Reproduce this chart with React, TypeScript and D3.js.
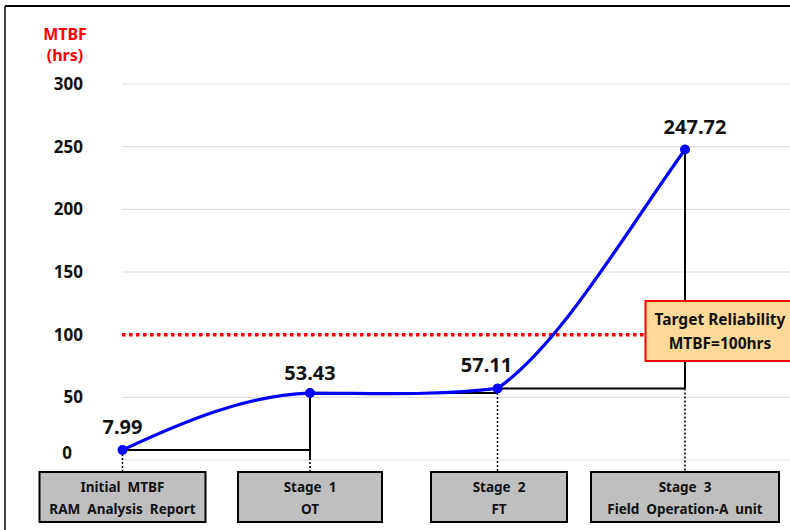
import React from "react";
import * as d3 from "d3";

const stageLine1 = ["Initial  MTBF", "Stage  1", "Stage  2", "Stage  3"];
const stageLine2 = ["RAM  Analysis  Report", "OT", "FT", "Field  Operation-A  unit"];
const mtbfValues = [7.99, 53.43, 57.11, 247.72];
const yTicks = [0, 50, 100, 150, 200, 250, 300];
const targetValue = 100;
const targetLines = ["Target Reliability", "MTBF=100hrs"];
const axisTitle = ["MTBF", "(hrs)"];

const W = 790;
const H = 530;
const FONT = "'Noto Sans', 'Open Sans', sans-serif";
const boxWidths = [166, 144, 136, 188];
const labelDx = [0, 0, -11, 10];
const labelDy = [-16, -13, -16, -16];
// curve shape: pixel-space slopes (dy/dx) leaving / entering each segment (freeform-like curve)
const slopeOut = [-0.47, 0.0, -0.7];
const slopeIn = [-0.03, -0.12, -1.4];

export default function App() {
  const x = d3
    .scalePoint<number>()
    .domain(mtbfValues.map((_, i) => i))
    .range([122.5, 685]);
  const y = d3.scaleLinear().domain([0, 300]).range([460, 84]);

  const pts: [number, number][] = mtbfValues.map((v, i) => [x(i)!, y(v)]);

  const curvePath = d3.path();
  curvePath.moveTo(pts[0][0], pts[0][1]);
  for (let i = 0; i < pts.length - 1; i++) {
    const [x0, y0] = pts[i];
    const [x1, y1] = pts[i + 1];
    const h = (x1 - x0) / 3;
    curvePath.bezierCurveTo(x0 + h, y0 + slopeOut[i] * h, x1 - h, y1 - slopeIn[i] * h, x1, y1);
  }

  const boxTop = 472;
  const boxBottom = 522;
  const targetY = y(targetValue);

  return (
    <svg
      width={W}
      height={H}
      style={{ position: "absolute", left: 0, top: 0, background: "#fff" }}
      fontFamily={FONT}
    >
      {/* frame */}
      <line x1={5} y1={6} x2={W} y2={6} stroke="#000" strokeWidth={2} />
      <line x1={5} y1={6} x2={5} y2={H} stroke="#000" strokeWidth={1.5} />

      {/* grid */}
      {yTicks.map((t) => (
        <line key={"g" + t} x1={122} x2={W} y1={y(t)} y2={y(t)} stroke="#d9d9d9" strokeWidth={1} />
      ))}

      {/* y tick labels */}
      {yTicks.map((t) => (
        <text
          key={"t" + t}
          x={t === 0 ? 72 : 83}
          y={y(t) + (t === 0 ? -7 : 0)}
          dy="0.35em"
          textAnchor="end"
          fontSize={17}
          fontWeight="bold"
          fill="#111"
        >
          {t}
        </text>
      ))}

      {/* axis title */}
      <text x={65} y={40} textAnchor="middle" fontSize={16} fontWeight="bold" fill="#ff0000">
        {axisTitle[0]}
      </text>
      <text x={65} y={61} textAnchor="middle" fontSize={16} fontWeight="bold" fill="#ff0000">
        {axisTitle[1]}
      </text>

      {/* dotted drop lines */}
      {pts.map((p, i) => (
        <line
          key={"d" + i}
          x1={p[0]}
          x2={p[0]}
          y1={i === 0 ? p[1] : pts[i - 1][1]}
          y2={boxTop}
          stroke="#000"
          strokeWidth={1.5}
          strokeDasharray="2 2"
        />
      ))}

      {/* step connectors */}
      {pts.slice(1).map((p, k) => {
        const prev = pts[k];
        const bottom = k === 0 ? y(0) : prev[1];
        return (
          <g key={"s" + k}>
            <line x1={prev[0]} x2={p[0]} y1={prev[1]} y2={prev[1]} stroke="#000" strokeWidth={2} />
            <line x1={p[0]} x2={p[0]} y1={p[1]} y2={bottom} stroke="#000" strokeWidth={2} />
          </g>
        );
      })}

      {/* target line */}
      <line
        x1={122}
        x2={645}
        y1={targetY}
        y2={targetY}
        stroke="#ff0000"
        strokeWidth={3.5}
        strokeDasharray="3.5 3.5"
      />

      {/* curve */}
      <path d={curvePath.toString()} fill="none" stroke="#0000ff" strokeWidth={3.2} strokeLinecap="round" />
      {pts.map((p, i) => (
        <circle key={"c" + i} cx={p[0]} cy={p[1]} r={5} fill="#0000ff" />
      ))}

      {/* value labels */}
      {pts.map((p, i) => (
        <text
          key={"v" + i}
          x={p[0] + labelDx[i]}
          y={p[1] + labelDy[i]}
          textAnchor="middle"
          fontSize={20}
          fontWeight="bold"
          fill="#111"
        >
          {mtbfValues[i].toFixed(2)}
        </text>
      ))}

      {/* target box */}
      <rect x={645.5} y={301} width={160} height={60} fill="#ffd997" stroke="#ff0000" strokeWidth={2} />
      <text x={720} y={325} textAnchor="middle" fontSize={15.5} fontWeight="bold" fill="#111">
        {targetLines[0]}
      </text>
      <text x={720} y={349} textAnchor="middle" fontSize={15.5} fontWeight="bold" fill="#111">
        {targetLines[1]}
      </text>

      {/* stage boxes */}
      {pts.map((p, i) => {
        const cx = i === 2 ? 499 : p[0];
        const w = boxWidths[i];
        return (
          <g key={"b" + i}>
            <rect
              x={cx - w / 2}
              y={boxTop}
              width={w}
              height={boxBottom - boxTop}
              fill="#bfbfbf"
              stroke="#000"
              strokeWidth={2}
            />
            <text x={cx} y={492} textAnchor="middle" fontSize={13.5} fontWeight="bold" fill="#111" style={{ whiteSpace: "pre" }}>
              {stageLine1[i]}
            </text>
            <text x={cx} y={514} textAnchor="middle" fontSize={13.5} fontWeight="bold" fill="#111" style={{ whiteSpace: "pre" }}>
              {stageLine2[i]}
            </text>
          </g>
        );
      })}
    </svg>
  );
}
